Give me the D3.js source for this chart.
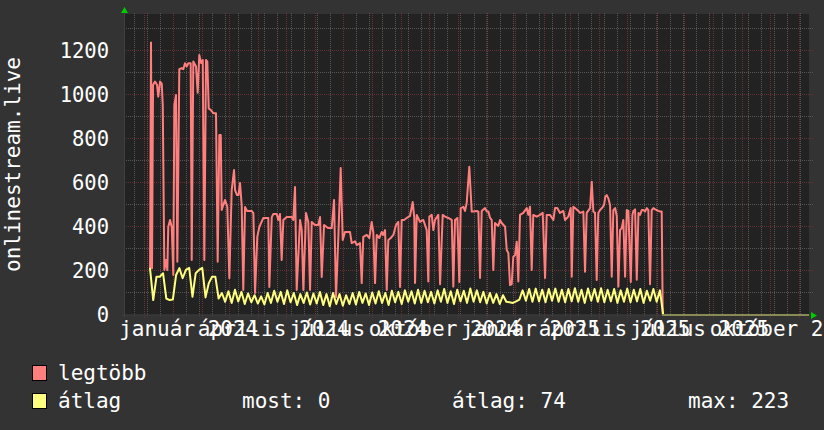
<!DOCTYPE html>
<html><head><meta charset="utf-8">
<script src="https://cdn.jsdelivr.net/npm/d3@7"></script>
<style>body{margin:0;background:#333333;} svg{display:block}</style>
</head><body>
<svg id="c" width="824" height="430"></svg>
<script>
// ---- data ----
const rangeStart = "2023-11-09T04:48:00Z";
const rangeEnd   = "2025-11-11T14:24:00Z";
const refDay     = "2024-01-01T00:00:00Z";   // day 0 of the series offsets
const yMax = 1368;
const yMinorStep = 100, yMajorStep = 200;
const yTickValues = [0, 200, 400, 600, 800, 1000, 1200];
const yTitle = "onlinestream.live";

const xTickDates  = ["2024-01-01","2024-04-01","2024-07-01","2024-10-01","2025-01-01","2025-04-01","2025-07-01","2025-10-01"];
const xTickLabels = ["január 2024","április 2024","július 2024","október 2024","január 2025","április 2025","július 2025","október 2025"];
const xLabelShiftDays = 16.5;   // labels sit about half a month after their tick
const minorGridAnchor = "2024-01-01"; const minorGridDays = 14;

const seriesNames = ["legtöbb", "átlag"];
const statLabels = ["most: 0", "átlag: 74", "max: 223"];

// legtöbb: [day offset from refDay, value]
const legtobb = [[-24.9,213],[-23.9,1238],[-22.8,213],[-21.7,1045],[-19.6,1061],[-17.4,1045],[-16.1,992],[-14.2,1061],[-12.4,1052],[-11.3,954],[-9.6,204],[-7.8,250],[-6.4,204],[-5.4,401],[-3.5,432],[-1.7,401],[0,182],[1.1,954],[2.9,1000],[4.3,242],[6.4,1117],[9.0,1122],[10.7,1117],[12.5,1144],[14.3,1129],[16.1,1144],[18.6,1144],[19.7,250],[21.4,1152],[24.3,1129],[26.1,1010],[27.8,1182],[29.7,1145],[31.5,1159],[33.2,250],[35.0,1159],[36.4,1152],[37.9,939],[40.0,932],[42.8,917],[45.7,917],[47.5,242],[49.3,818],[50.8,818],[51.8,477],[52.9,492],[55.4,523],[57.8,492],[60.0,167],[62.5,568],[65.0,659],[66.1,568],[68.2,545],[69.8,545],[71.4,600],[73.2,500],[74.9,114],[76.8,491],[78.9,473],[82.1,473],[83.9,473],[85.7,463],[87.5,100],[89.9,355],[92.1,400],[96.4,441],[100.0,441],[101.7,441],[102.8,127],[105.4,445],[107.1,459],[110.7,459],[112.4,432],[114.2,459],[116.0,250],[117.8,432],[121.4,445],[126.8,445],[128.5,432],[130.3,582],[132.1,114],[135.7,432],[137.5,386],[139.2,114],[142.1,464],[144.5,423],[146.4,114],[148.2,423],[151.7,409],[155.3,409],[157.1,445],[158.9,173],[161.4,409],[165.6,395],[169.6,395],[172.1,523],[174.2,82],[176.7,355],[179.2,668],[181.4,341],[183.8,377],[189.2,377],[191.0,327],[194.5,335],[196.4,318],[199.9,327],[201.7,145],[203.4,355],[207.1,364],[209.9,350],[212.4,423],[214.1,377],[216.0,145],[217.8,364],[220.6,350],[223.1,377],[224.8,364],[226.7,386],[228.5,114],[230.2,341],[232.8,350],[235.6,364],[238.4,409],[240.9,423],[242.7,127],[244.5,432],[247.0,432],[249.9,441],[253.4,450],[256.3,514],[258.0,441],[258.8,145],[260.6,455],[264.1,423],[267.7,432],[271.3,386],[273.0,152],[274.1,447],[276.7,455],[278.4,386],[280.2,432],[283.7,455],[285.6,140],[288.4,455],[290.9,447],[294.4,441],[298.1,432],[299.8,129],[301.6,432],[304.1,441],[306.2,150],[307.7,485],[310.5,492],[312.3,473],[314.1,509],[316.9,674],[319.5,470],[321.2,470],[324.9,473],[326.6,470],[328.4,168],[330.2,473],[333.7,486],[335.6,470],[337.3,470],[339.1,441],[340.9,432],[342.6,205],[344.4,418],[348.0,405],[349.8,432],[351.6,418],[355.2,401],[357.0,295],[358.7,282],[360.5,136],[362.3,140],[364.0,265],[365.9,272],[367.7,333],[369.4,152],[371.2,455],[374.7,464],[378.4,486],[380.1,455],[381.9,492],[383.7,205],[385.4,455],[389.1,447],[392.6,455],[395.5,464],[398.0,168],[399.8,455],[403.3,455],[406.9,432],[408.7,486],[411.1,486],[414.0,464],[417.6,473],[419.4,432],[422.9,447],[425.5,486],[426.6,174],[428.3,492],[430.1,486],[433.6,473],[435.5,464],[439.0,470],[440.8,197],[442.6,464],[446.2,486],[448.0,606],[449.7,470],[451.5,464],[453.3,159],[455.0,464],[456.9,477],[459.0,486],[461.2,500],[462.5,538],[464.0,545],[465.8,530],[467.6,500],[469.4,174],[471.1,477],[473.0,486],[474.8,450],[476.5,129],[478.3,386],[480.1,395],[481.8,432],[483.7,174],[485.5,477],[487.2,473],[489.8,150],[491.5,455],[492.6,473],[494.4,480],[496.2,160],[498.0,464],[499.7,455],[501.6,477],[503.3,477],[505.1,470],[506.9,486],[508.6,477],[510.4,140],[512.2,477],[514.0,486],[515.8,480],[517.6,477],[519.3,473],[521.1,470],[522.9,470],[524.0,0],[680.6,0]];

// átlag: regular samples, every 3.5 days starting at day -25
const atlagStartDay = -25, atlagStepDays = 3.5;
const atlag = [214,68,174,174,190,75,68,70,182,213,167,205,214,83,190,205,214,80,145,174,174,75,
 100,60,108,55,115,62,105,50,98,58,90,52,85,48,100,55,110,60,105,50,112,58,100,45,
 95,55,102,48,98,52,105,45,95,40,100,50,95,42,90,50,100,48,105,55,98,45,102,52,
 108,55,100,45,110,58,105,50,112,60,108,52,115,55,110,58,105,52,112,60,118,55,
 108,50,115,62,110,55,120,60,112,58,105,52,100,55,95,50,90,60,58,55,62,70,
 112,65,118,60,120,62,115,58,118,65,120,60,115,58,118,62,122,60,115,55,120,65,
 118,60,122,58,115,62,118,55,112,60,120,58,115,62,118,55,110,65,118,60,112,0];
const atlagTail = [[680.6, 0]];

// ---- drawing ----
const W = 824, H = 430;
const L = 124, R = 809, T = 14, B = 315;
const FONT = "'DejaVu Sans Mono', monospace";
const svg = d3.select("#c");
const parse = s => new Date(s.length === 10 ? s + "T00:00:00Z" : s);
const ref = parse(refDay);
const DAY = 86400000;
const dayToDate = d => new Date(ref.getTime() + d * DAY);

const x = d3.scaleUtc().domain([parse(rangeStart), parse(rangeEnd)]).range([L, R]);
const y = d3.scaleLinear().domain([0, yMax]).range([B, T]);
const px = v => Math.floor(v) + 0.5;

svg.append("rect").attr("width", W).attr("height", H).attr("fill", "#333333");
svg.append("rect").attr("x", L).attr("y", T).attr("width", R - L).attr("height", B - T).attr("fill", "#222222");

const grid = svg.append("g").attr("shape-rendering", "crispEdges").attr("stroke-width", 1).attr("stroke-dasharray", "1,1");
const MINOR = "#555555", MAJOR = "#643030";

// horizontal grid
const yMinor = d3.range(yMinorStep, yMax, yMinorStep).filter(v => v % yMajorStep !== 0);
const yMajor = d3.range(yMajorStep, yMax, yMajorStep);
grid.selectAll(".hm").data(yMinor).join("line").attr("x1", L).attr("x2", R + 4)
  .attr("y1", d => px(y(d))).attr("y2", d => px(y(d))).attr("stroke", MINOR);
grid.selectAll(".hM").data(yMajor).join("line").attr("x1", L).attr("x2", R + 4)
  .attr("y1", d => px(y(d))).attr("y2", d => px(y(d))).attr("stroke", MAJOR);

// vertical grid
const [d0, d1] = x.domain();
const minorDates = [];
for (let t = parse(minorGridAnchor).getTime(); t > d0.getTime(); t -= minorGridDays * DAY) minorDates.push(new Date(t));
for (let t = parse(minorGridAnchor).getTime() + minorGridDays * DAY; t < d1.getTime(); t += minorGridDays * DAY) minorDates.push(new Date(t));
const majorDates = d3.utcMonth.range(d0, d1);
grid.selectAll(".vm").data(minorDates).join("line").attr("x1", d => px(x(d))).attr("x2", d => px(x(d)))
  .attr("y1", T - 1).attr("y2", B + 2).attr("stroke", MINOR);
grid.selectAll(".vM").data(majorDates).join("line").attr("x1", d => px(x(d))).attr("x2", d => px(x(d)))
  .attr("y1", T - 1).attr("y2", B + 3).attr("stroke", "#6e3232");

// data lines
const line = d3.line().x(d => x(dayToDate(d[0]))).y(d => y(d[1]));
svg.append("path").datum(legtobb).attr("d", line).attr("fill", "none")
  .attr("stroke", "#ff7f7f").attr("stroke-width", 2).attr("stroke-linejoin", "round");
const atlagPts = atlag.map((v, i) => [atlagStartDay + i * atlagStepDays, v]).concat(atlagTail);
svg.append("path").datum(atlagPts).attr("d", line).attr("fill", "none")
  .attr("stroke", "#ffff7f").attr("stroke-width", 2).attr("stroke-linejoin", "round");

// axes
svg.append("line").attr("x1", L - 2).attr("x2", R + 3).attr("y1", B).attr("y2", B)
  .attr("stroke", "rgba(60,60,60,0.6)").attr("stroke-width", 2).attr("shape-rendering", "crispEdges");
svg.append("line").attr("x1", L + 0.5).attr("x2", L + 0.5).attr("y1", B + 2).attr("y2", T - 4)
  .attr("stroke", "#404040").attr("shape-rendering", "crispEdges");
svg.append("path").attr("d", `M${L - 3},${T - 1}L${L + 0.5},${T - 7}L${L + 4},${T - 1}Z`).attr("fill", "#00cc00");
svg.append("path").attr("d", `M${R + 2},${B - 3}L${R + 8},${B + 0.5}L${R + 2},${B + 4}Z`).attr("fill", "#00cc00");

// y labels
svg.selectAll(".yl").data(yTickValues).join("text")
  .attr("x", 109).attr("y", d => y(d)).attr("dy", "0.36em").attr("text-anchor", "end")
  .attr("font-family", FONT).attr("font-size", 20.5).attr("fill", "#ffffff").text(d => d);

// x labels
svg.selectAll(".xl").data(xTickDates).join("text")
  .attr("x", d => x(new Date(parse(d).getTime() + xLabelShiftDays * DAY))).attr("y", 336).attr("text-anchor", "middle")
  .attr("font-family", FONT).attr("font-size", 21).attr("fill", "#ffffff").text((d, i) => xTickLabels[i]);

// y title
svg.append("text").attr("transform", `translate(20,${(T + B) / 2}) rotate(-90)`).attr("text-anchor", "middle")
  .attr("font-family", FONT).attr("font-size", 21).attr("fill", "#ffffff").text(yTitle);

// legend
const colors = ["#ff7f7f", "#ffff7f"];
const rowsY = [365, 393];
seriesNames.forEach((n, i) => {
  svg.append("rect").attr("x", 32.5).attr("y", rowsY[i] + 0.5).attr("width", 14).attr("height", 15)
    .attr("fill", colors[i]).attr("stroke", "#000").attr("stroke-width", 1);
  svg.append("text").attr("x", 58).attr("y", rowsY[i] + 15).attr("font-family", FONT).attr("font-size", 21)
    .attr("fill", "#ffffff").text(n);
});
const statX = [242, 452, 688];
statLabels.forEach((s, i) => {
  svg.append("text").attr("x", statX[i]).attr("y", rowsY[1] + 15).attr("font-family", FONT).attr("font-size", 21)
    .attr("fill", "#ffffff").text(s);
});
</script>
</body></html>
